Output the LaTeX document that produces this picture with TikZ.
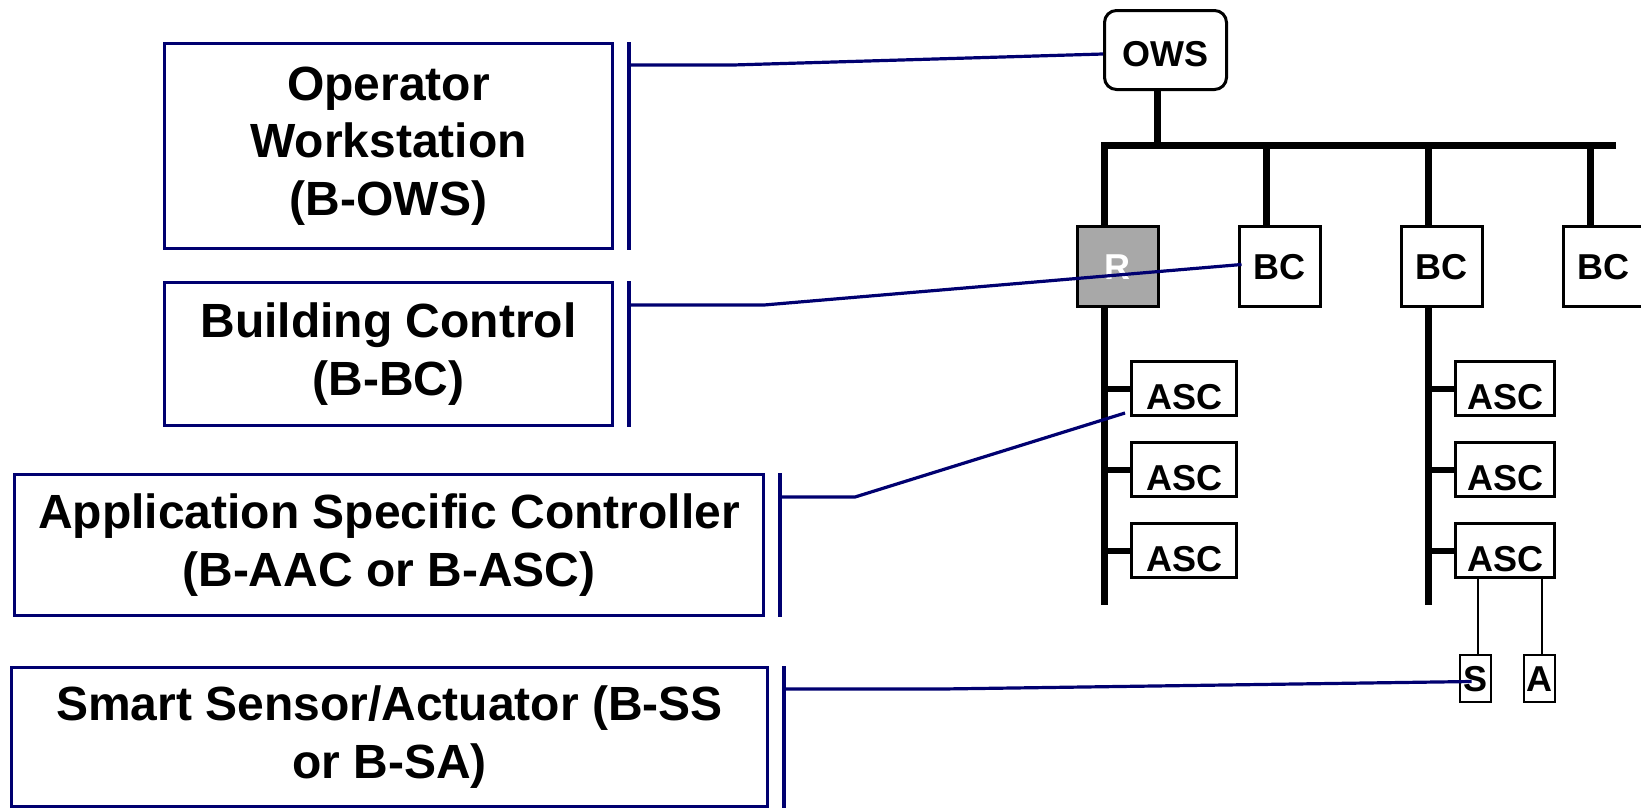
\documentclass[tikz,border=0pt]{standalone}
\usepackage{fontspec}
\setmainfont{Liberation Sans}
\usetikzlibrary{positioning, calc}
\definecolor{levelblue}{RGB}{0, 0, 112}
\definecolor{routergray}{RGB}{168, 168, 168}
\tikzset{
    levelbox/.style={
        rectangle,
        draw=levelblue,
        line width=1.6pt,
        inner sep=0pt,
        align=center,
        font=\bfseries\fontsize{24}{28.75}\selectfont
    },
    device/.style={
        rectangle,
        draw=black,
        fill=white,
        line width=1.5pt,
        minimum width=40.5pt,
        minimum height=40pt,
        inner sep=0pt,
        text height=12.9pt,
        text depth=0pt,
        font=\bfseries\fontsize{18}{21}\selectfont
    },
    router/.style={
        device,
        fill=routergray,
        text=white
    },
    ascbox/.style={
        device,
        minimum width=52.5pt,
        minimum height=27pt,
        text height=20.9pt
    },
    field/.style={
        device,
        line width=1.2pt,
        minimum width=15.3pt,
        minimum height=23.3pt
    },
    bus/.style={
        line width=3.5pt,
        line join=miter
    },
    stub/.style={
        line width=3pt
    },
    drop/.style={
        line width=1.2pt
    },
    bracket/.style={
        draw=levelblue,
        line width=1.75pt
    },
    leader/.style={
        draw=levelblue,
        line width=1.6pt
    }
}
\begin{document}
\begin{tikzpicture}[x=0.5pt, y=-0.5pt, node distance=81pt]
    \useasboundingbox (0,0) rectangle (1641,809);

    % Define the level boxes on the left
    \node (ows level) [levelbox, minimum width=223.9pt, minimum height=102.4pt] at (388.5,146) {Operator\\Workstation\\(B-OWS)};
    \node (bc level) [levelbox, minimum width=223.9pt, minimum height=71.4pt] at (388.5,354) {Building Control\\(B-BC)};
    \node (asc level) [levelbox, minimum width=374.4pt, minimum height=70.4pt] at (389,545) {Application Specific Controller\\(B-AAC or B-ASC)};
    \node (ss level) [levelbox, minimum width=377.9pt, minimum height=69.4pt] at (389.5,737) {Smart Sensor/Actuator (B-SS\\or B-SA)};

    % Define the network devices
    \node (ows) [device, rounded corners=6pt, minimum width=61pt, minimum height=39.5pt, text height=16.9pt] at (1165.5,50) {OWS};
    \node (router) [router] at (1117.5,266.5) {R};
    \node (bc1) [device, right of=router] {BC};
    \node (bc2) [device, right of=bc1] {BC};
    \node (bc3) [device, right of=bc2] {BC};

    \node (asc1) [ascbox, anchor=north west] at (1130,360) {ASC};
    \node (asc2) [ascbox, below=12pt of asc1] {ASC};
    \node (asc3) [ascbox, below=12pt of asc2] {ASC};
    \node (asc4) [ascbox, minimum width=49.5pt, anchor=north west] at (1454,360) {ASC};
    \node (asc5) [ascbox, minimum width=49.5pt, below=12pt of asc4] {ASC};
    \node (asc6) [ascbox, minimum width=49.5pt, below=12pt of asc5] {ASC};

    \node (sensor) [field] at (1475.5,678.5) {S};
    \node (actuator) [field] at (1539.5,678.5) {A};

    % Bus and trunks
    \coordinate (bus west) at (1104,145);
    \coordinate (bus east) at (1616,145);
    \coordinate (left end) at (1104,605);
    \coordinate (right end) at (1428,605);

    \draw [bus] (bus east) -- (bus west) -- ([xshift=-6.75pt]router.north);
    \draw [bus] ([xshift=-6.75pt]router.south) -- (left end);
    \draw [bus] ([xshift=-4pt]ows.south) -- ([xshift=-4pt]ows.south |- bus west);
    \foreach \n in {bc1, bc2, bc3}
        \draw [bus] ([xshift=-6.75pt]\n.north) -- ([xshift=-6.75pt]\n.north |- bus west);
    \draw [bus] ([xshift=-6.75pt]bc2.south) -- (right end);

    % Stubs to the controllers
    \foreach \n in {asc1, asc2, asc3}
        \draw [stub] (\n.west -| left end) -- (\n.west);
    \foreach \n in {asc4, asc5, asc6}
        \draw [stub] (\n.west -| right end) -- (\n.west);

    \draw [drop] ([xshift=1.25pt]sensor.north) -- ([xshift=1.25pt]sensor.north |- asc6.south);
    \draw [drop] ([xshift=1.25pt]actuator.north) -- ([xshift=1.25pt]actuator.north |- asc6.south);

    % Brackets and leaders from the level boxes
    \foreach \n in {ows level, bc level, asc level, ss level}
        \draw [bracket] ($(\n.north east)+(15,0)$) -- ($(\n.south east)+(15,0)$);

    \draw [leader] ($(ows level.north east)+(15,23)$) -- ++(104,0) -- ([yshift=-2pt]ows.west);
    \draw [leader] ($(bc level.north east)+(15,24)$) -- ++(135,0) -- ([xshift=2pt,yshift=1pt]bc1.west);
    \draw [leader] ($(asc level.north east)+(15,24)$) -- ++(75,0) -- ([xshift=-2.5pt,yshift=2pt]asc1.south west);
    \draw [leader] ($(ss level.north east)+(15,23)$) -- ++(158,0) -- ([xshift=-2pt,yshift=-1.5pt]sensor.center);

\end{tikzpicture}
\end{document}
